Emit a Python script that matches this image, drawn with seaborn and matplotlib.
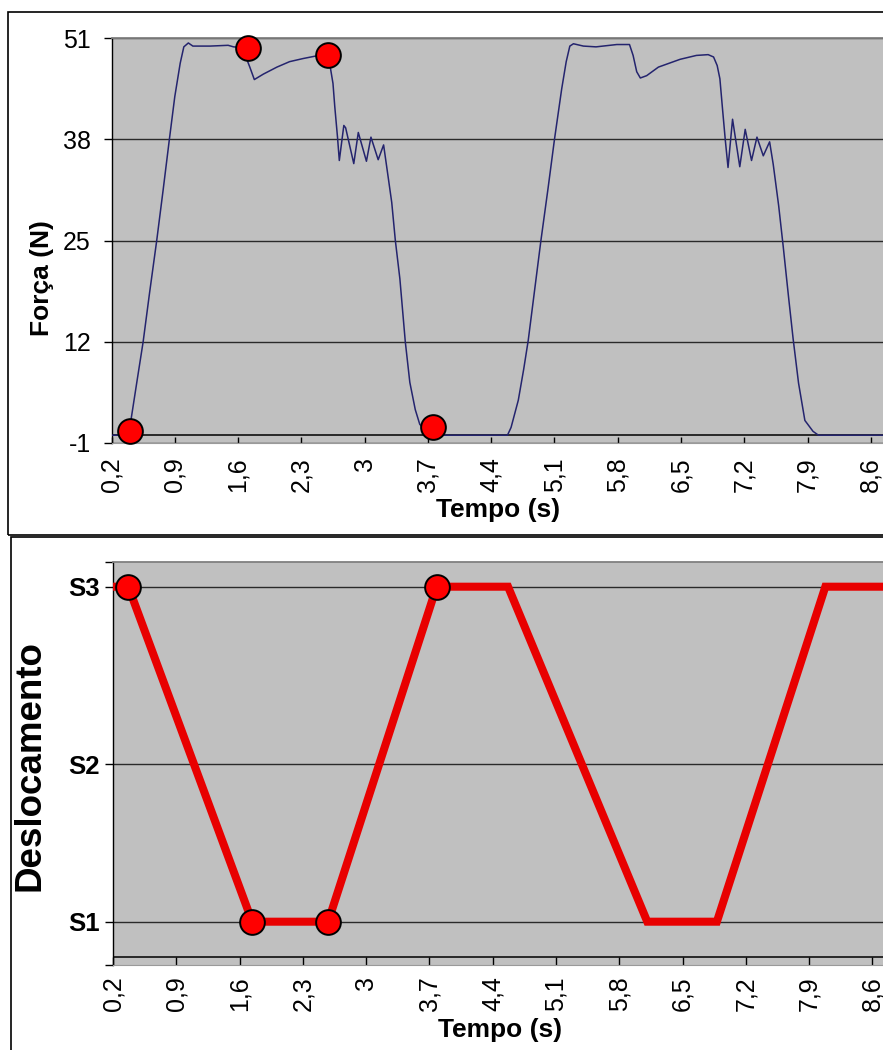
import matplotlib
matplotlib.use("Agg")
import matplotlib.pyplot as plt
from matplotlib.patches import Rectangle
import seaborn as sns
import pandas as pd

# ---------------- data ----------------
# Top chart: force vs time
t_force = [0.20, 0.38, 0.40, 0.42, 0.48, 0.55, 0.62, 0.70, 0.77, 0.84, 0.90, 0.96, 1.00,
           1.05, 1.10, 1.29, 1.49, 1.55, 1.66, 1.70, 1.73, 1.78, 1.88, 2.03, 2.17, 2.32, 2.45,
           2.57, 2.62, 2.65, 2.67, 2.70, 2.72, 2.77, 2.79, 2.88, 2.93, 3.02, 3.07, 3.15, 3.21,
           3.26, 3.30, 3.34, 3.39, 3.45, 3.50, 3.56, 3.61, 3.70, 3.78,
           4.45, 4.58, 4.62, 4.70, 4.76, 4.81, 4.88, 4.95, 5.03, 5.10, 5.18, 5.23, 5.27, 5.31,
           5.42, 5.56, 5.79, 5.93, 5.97, 6.01, 6.05, 6.12, 6.25, 6.49, 6.67, 6.80, 6.86, 6.90,
           6.93, 6.96, 6.99, 7.02, 7.07, 7.15, 7.21, 7.28, 7.34, 7.41, 7.48, 7.52, 7.58, 7.63,
           7.69, 7.74, 7.80, 7.87, 7.96, 8.02, 8.30, 8.75]
force = [0.0, 0.0, 0.5, 2.3, 6.8, 12.0, 18.2, 25.0, 31.4, 38.0, 43.5, 47.8, 49.9,
         50.4, 50.0, 50.0, 50.1, 49.9, 49.8, 48.2, 47.3, 45.7, 46.4, 47.3, 48.0, 48.4, 48.7,
         48.9, 47.3, 45.2, 42.2, 38.3, 35.3, 39.8, 39.5, 34.9, 38.9, 35.2, 38.3, 35.4, 37.3,
         33.2, 29.9, 25.0, 20.1, 12.0, 6.8, 3.3, 1.4, 0.3, 0.0,
         0.0, 0.0, 1.0, 4.5, 8.5, 12.2, 18.6, 25.0, 31.8, 38.0, 44.5, 48.0, 50.0, 50.3,
         50.0, 49.9, 50.2, 50.2, 48.8, 46.7, 45.9, 46.2, 47.3, 48.3, 48.8, 48.9, 48.6, 47.5,
         45.8, 41.8, 37.9, 34.4, 40.6, 34.5, 39.3, 35.3, 38.3, 35.9, 37.7, 34.8, 29.5, 24.3,
         17.7, 12.4, 6.7, 1.9, 0.5, 0.0, 0.0, 0.0]
force_marker_t = [0.40, 1.71, 2.59, 3.76]
force_marker_v = [0.6, 49.7, 48.8, 1.0]

force_yticks = [-1, 12, 25, 38, 51]
time_tick_labels = ["0,2", "0,9", "1,6", "2,3", "3", "3,7", "4,4", "5,1", "5,8",
                    "6,5", "7,2", "7,9", "8,6"]

# Bottom chart: displacement levels vs time
level_names = ["S1", "S2", "S3"]
level_pos = [1.0, 2.0, 3.128]
t_disp = [0.20, 0.37, 1.74, 2.58, 3.78, 4.57, 6.11, 6.88, 8.08, 8.75]
disp_level = ["S3", "S3", "S1", "S1", "S3", "S3", "S1", "S1", "S3", "S3"]
disp_marker_t = [0.37, 1.74, 2.58, 3.78]
disp_marker_level = ["S3", "S1", "S1", "S3"]

# ---------------- style ----------------
plt.rcParams['font.family'] = ['Liberation Sans', 'DejaVu Sans']
FIG_W, FIG_H = 883, 1050
DPI = 100
BG = "#c0c0c0"
GRID = "#2a2a2a"
NAVY = "#24246e"
RED_LINE = "#e80000"
RED_MK = "#ff0000"
TICK_FS = 18
LABEL_FS = 19

fig = plt.figure(figsize=(FIG_W / DPI, FIG_H / DPI), dpi=DPI)
fig.patch.set_facecolor("white")

xmin, xmax = 0.2, 8.75
px_per_s = 90.4
tick_pos = [float(s.replace(",", ".")) for s in time_tick_labels]

def px_to_fx(px):
    return px / FIG_W

def px_to_fy(py):
    return (FIG_H - py) / FIG_H

# ---- outer frames ----
fig.add_artist(Rectangle((px_to_fx(8), px_to_fy(535)), 1.2, (535 - 12) / FIG_H,
                         transform=fig.transFigure, fill=False, ec="black", lw=1.2))
fig.add_artist(Rectangle((px_to_fx(11), -0.05), 1.2, (FIG_H - 537) / FIG_H + 0.05,
                         transform=fig.transFigure, fill=False, ec="black", lw=1.2))

# ================= TOP: force =================
ax1 = fig.add_axes([px_to_fx(111.5), px_to_fy(443), (xmax - xmin) * px_per_s / FIG_W,
                    (443 - 38.3) / FIG_H])
ax1.set_facecolor(BG)
df_f = pd.DataFrame({"t": t_force, "F": force})
sns.lineplot(data=df_f, x="t", y="F", ax=ax1, color=NAVY, lw=1.1,
             estimator=None, sort=False, zorder=3)
ax1.axhline(0, color="black", lw=1.1, zorder=2.6)
df_fm = pd.DataFrame({"t": force_marker_t, "F": force_marker_v})
sns.scatterplot(data=df_fm, x="t", y="F", ax=ax1, s=17.8 ** 2, color=RED_MK,
                edgecolor="black", linewidth=1.4, zorder=5, clip_on=False)
ax1.set_xlim(xmin, xmax)
ax1.set_ylim(-1, 51)
ax1.set_yticks(force_yticks)
ax1.set_yticklabels([str(v) for v in force_yticks], fontsize=TICK_FS)
ax1.set_xticks(tick_pos)
ax1.set_xticklabels(time_tick_labels, rotation=90, fontsize=TICK_FS)
ax1.tick_params(axis="y", direction="out", length=5.8, width=1, color="black", pad=9)
ax1.tick_params(axis="x", direction="in", length=4.4, width=1, color="black", pad=10)
ax1.grid(axis="y", color=GRID, lw=1.0)
ax1.grid(axis="x", visible=False)
ax1.set_axisbelow(True)
ax1.spines["right"].set_visible(False)
ax1.spines["top"].set_color("#808080")
ax1.spines["top"].set_linewidth(1.3)
ax1.spines["bottom"].set_color("#9a9a9a")
ax1.spines["bottom"].set_linewidth(0.8)
ax1.spines["left"].set_color("black")
ax1.spines["left"].set_linewidth(1.0)
ax1.set_ylabel("Força (N)", fontsize=LABEL_FS, fontweight="bold", va="center")
ax1.yaxis.set_label_coords(px_to_fx(42), px_to_fy(278), transform=fig.transFigure)
ax1.set_xlabel("Tempo (s)", fontsize=LABEL_FS, fontweight="bold", va="center")
ax1.xaxis.set_label_coords(px_to_fx(498), px_to_fy(510), transform=fig.transFigure)

# ================= BOTTOM: displacement =================
lvl = dict(zip(level_names, level_pos))
y_bot = level_pos[0] - 43.3 / 157.4
y_top = level_pos[2] + 24.7 / 157.4
y_cross = level_pos[0] - 35.3 / 157.4

ax2 = fig.add_axes([px_to_fx(113), px_to_fy(965), (xmax - xmin) * px_per_s / FIG_W,
                    (965 - 562) / FIG_H])
ax2.set_facecolor(BG)
df_d = pd.DataFrame({"t": t_disp, "y": [lvl[s] for s in disp_level]})
sns.lineplot(data=df_d, x="t", y="y", ax=ax2, color=RED_LINE, lw=5.8,
             estimator=None, sort=False, zorder=3)
ax2.lines[-1].set_solid_joinstyle("miter")
ax2.axhline(y_cross, color="black", lw=1.1, zorder=2.6)
df_dm = pd.DataFrame({"t": disp_marker_t, "y": [lvl[s] for s in disp_marker_level]})
sns.scatterplot(data=df_dm, x="t", y="y", ax=ax2, s=17.8 ** 2, color=RED_MK,
                edgecolor="black", linewidth=1.4, zorder=5, clip_on=False)
ax2.set_xlim(xmin, xmax)
ax2.set_ylim(y_bot, y_top)
ax2.set_yticks(level_pos)
ax2.set_yticklabels(level_names, fontsize=18.5, fontweight="bold")
ax2.set_yticks([y_bot, y_top], minor=True)
ax2.set_xticks(tick_pos)
ax2.set_xticklabels(time_tick_labels, rotation=90, fontsize=TICK_FS)
ax2.tick_params(axis="y", which="both", direction="out", length=5.8, width=1,
                color="black", pad=3.5)
ax2.tick_params(axis="x", direction="in", length=5.8, width=1, color="black", pad=8)
ax2.grid(axis="y", which="major", color=GRID, lw=1.0)
ax2.grid(axis="x", visible=False)
ax2.set_axisbelow(True)
ax2.spines["right"].set_visible(False)
ax2.spines["top"].set_color("#808080")
ax2.spines["top"].set_linewidth(1.3)
ax2.spines["bottom"].set_color("#9a9a9a")
ax2.spines["bottom"].set_linewidth(0.8)
ax2.spines["left"].set_color("black")
ax2.spines["left"].set_linewidth(1.0)
ax2.set_ylabel("Deslocamento", fontsize=26.5, fontweight="bold", va="center")
ax2.yaxis.set_label_coords(px_to_fx(30), px_to_fy(766), transform=fig.transFigure)
ax2.set_xlabel("Tempo (s)", fontsize=LABEL_FS, fontweight="bold", va="center")
ax2.xaxis.set_label_coords(px_to_fx(500), px_to_fy(1030), transform=fig.transFigure)

fig.savefig("out.png", dpi=DPI, facecolor="white")
